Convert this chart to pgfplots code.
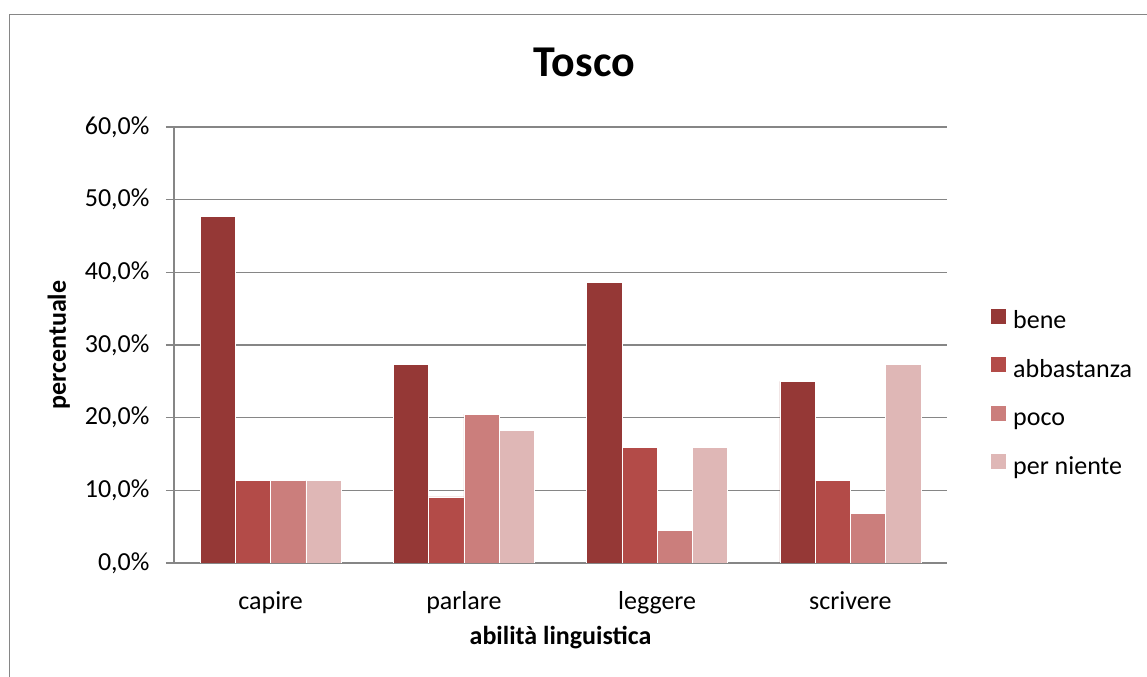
\documentclass[border=0pt]{standalone}
\usepackage{pgfplots}
\pgfplotsset{compat=1.18}
\usepackage{fontspec}
\setmainfont{Carlito}
\definecolor{c1}{RGB}{149,56,54}
\definecolor{c2}{RGB}{179,75,72}
\definecolor{c3}{RGB}{203,126,124}
\definecolor{c4}{RGB}{223,183,182}
\definecolor{gridgray}{RGB}{134,134,134}
\begin{document}
\begin{tikzpicture}
\draw[gridgray, line width=1.5bp] (9.5bp,-5bp) -- (9.5bp,662.5bp) -- (1160bp,662.5bp);
\node[anchor=base, font=\fontsize{44bp}{52bp}\selectfont\bfseries] at (584.5bp,600bp) {Tosco};
\begin{axis}[
  at={(174bp,114bp)}, anchor=south west,
  scale only axis, width=773bp, height=436bp,
  xmin=-0.5, xmax=3.5, ymin=0, ymax=60,
  ybar=0pt, bar width=0.1827,
  axis x line*=bottom, axis y line*=left,
  axis line style={gridgray, line width=1.3bp, -},
  ytick={0,10,20,30,40,50,60},
  yticklabels={{0,0\%},{10,0\%},{20,0\%},{30,0\%},{40,0\%},{50,0\%},{60,0\%}},
  ymajorgrids, grid style={gridgray, line width=1.3bp},
  xtick={0,1,2,3}, xticklabels={capire,parlare,leggere,scrivere},
  x tick style={draw=none},
  y tick style={gridgray, line width=1.3bp},
  tick align=outside, major tick length=8bp,
  /pgf/number format/assume math mode=true,
  ticklabel style={font=\fontsize{26bp}{31bp}\selectfont},
  yticklabel style={xshift=-13bp},
  xticklabel style={anchor=base, yshift=-38bp},
  xlabel={abilità linguistica},
  ylabel={percentuale},
  label style={font=\fontsize{26bp}{31bp}\selectfont\bfseries},
  xlabel style={at={(axis description cs:0.5,-0.1858)}, anchor=base},
  ylabel style={at={(axis description cs:-0.14,0.5)}, anchor=base},
  legend style={at={(axis description cs:1.0569,0.3865)}, anchor=west,
    draw=none, fill=none, inner sep=0pt, row sep=22.5bp,
    font=\fontsize{26bp}{31bp}\selectfont,
    nodes={inner sep=0pt, text height=18bp, text depth=6bp},
    /tikz/every odd column/.append style={column sep=7bp}},
  legend cell align=left,
  legend image code/.code={\path[#1,draw=none] (0bp,-1bp) rectangle (15bp,14bp);},
]
\addplot[fill=c1, draw=white, line width=0.5bp] coordinates {(0,47.7) (1,27.3) (2,38.6) (3,25.0)};
\addplot[fill=c2, draw=white, line width=0.5bp] coordinates {(0,11.4) (1,9.1) (2,15.9) (3,11.4)};
\addplot[fill=c3, draw=white, line width=0.5bp] coordinates {(0,11.4) (1,20.5) (2,4.5) (3,6.8)};
\addplot[fill=c4, draw=white, line width=0.5bp] coordinates {(0,11.4) (1,18.2) (2,15.9) (3,27.3)};
\legend{bene,abbastanza,poco,per niente}
\end{axis}
\pgfresetboundingbox
\useasboundingbox (0bp,0bp) rectangle (1147bp,677bp);
\end{tikzpicture}
\end{document}
